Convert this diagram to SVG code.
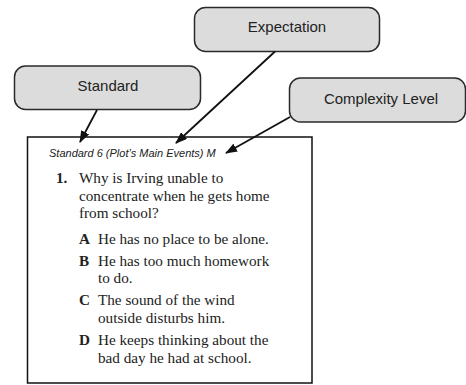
<svg xmlns="http://www.w3.org/2000/svg" width="466" height="385" viewBox="0 0 466 385">
<defs>
<style>
.lbl{fill:#dcdcdc;stroke:#2a2a2a;stroke-width:1.5}
.lt{font-family:"Liberation Sans",Arial,sans-serif;font-size:15px;fill:#222;text-anchor:middle}
.hd{font-family:"Liberation Sans",Arial,sans-serif;font-size:11px;font-style:italic;fill:#222}
.q{font-family:"Liberation Serif","Times New Roman",serif;font-size:15.2px;fill:#222}
.b{font-weight:bold}
.con{stroke:#111;stroke-width:1.8;fill:none}
</style>
<marker id="ah" markerWidth="12" markerHeight="9" refX="11" refY="4.5" orient="auto" markerUnits="userSpaceOnUse">
<path d="M0,0 L12,4.5 L0,9 Z" fill="#111"/>
</marker>
</defs>
<rect width="466" height="385" fill="#fff"/>
<g id="expectation">
<rect class="lbl" x="194.5" y="7.5" width="185" height="44" rx="11"/>
<text class="lt" x="287" y="32">Expectation</text>
</g>
<g id="standard">
<rect class="lbl" x="14.5" y="66" width="186" height="43.5" rx="11"/>
<text class="lt" x="108" y="91">Standard</text>
</g>
<g id="complexity">
<rect class="lbl" x="289.5" y="78" width="176" height="44" rx="11"/>
<text class="lt" x="381" y="104">Complexity Level</text>
</g>
<g id="item">
<rect x="27.5" y="137" width="284.5" height="246" fill="#fff" stroke="#111" stroke-width="1.5"/>
<text class="hd" x="49" y="157">Standard 6 (Plot’s Main Events) M</text>
<text class="q"><tspan class="b" x="56" y="183">1.</tspan><tspan x="79" y="183">Why is Irving unable to</tspan><tspan x="79" y="200.5">concentrate when he gets home</tspan><tspan x="79" y="218">from school?</tspan></text>
<text class="q"><tspan class="b" x="79" y="244">A</tspan><tspan x="98" y="244">He has no place to be alone.</tspan></text>
<text class="q"><tspan class="b" x="79" y="265.5">B</tspan><tspan x="98" y="265.5">He has too much homework</tspan><tspan x="98" y="283">to do.</tspan></text>
<text class="q"><tspan class="b" x="79" y="305">C</tspan><tspan x="98" y="305">The sound of the wind</tspan><tspan x="98" y="322.5">outside disturbs him.</tspan></text>
<text class="q"><tspan class="b" x="79" y="345">D</tspan><tspan x="98" y="345">He keeps thinking about the</tspan><tspan x="98" y="362.5">bad day he had at school.</tspan></text>
</g>
<g id="connectors">
<line class="con" x1="97" y1="110" x2="80" y2="142" marker-end="url(#ah)"/>
<line class="con" x1="275" y1="51.5" x2="176" y2="143" marker-end="url(#ah)"/>
<line class="con" x1="290" y1="117" x2="226" y2="153" marker-end="url(#ah)"/>
</g>
</svg>
